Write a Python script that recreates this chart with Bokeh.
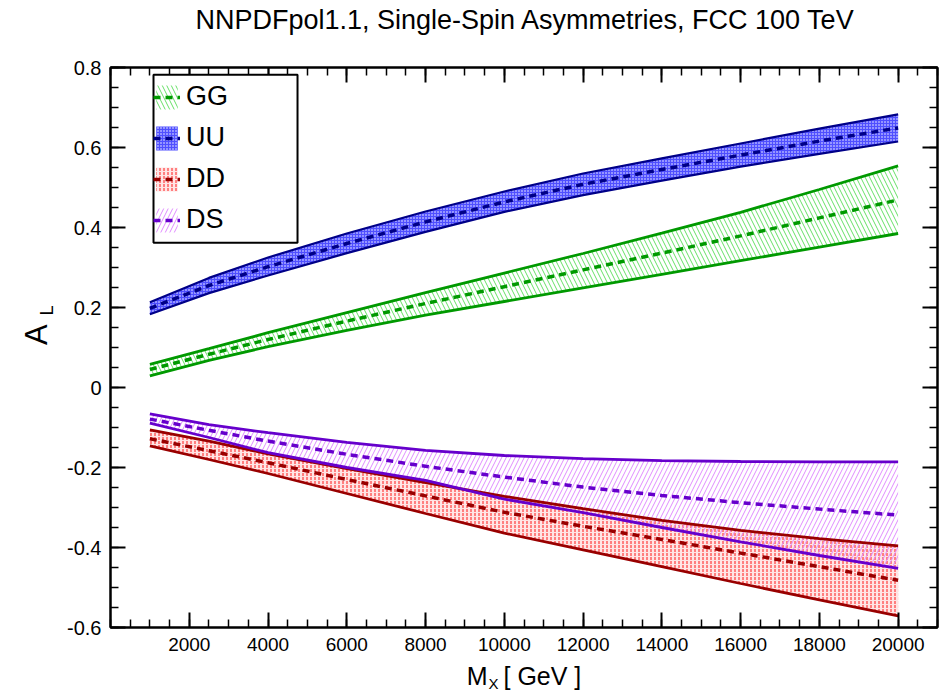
import math
from bokeh.plotting import figure
from bokeh.layouts import column, row
from bokeh.models import (FixedTicker, Legend, LegendItem, BoxAnnotation,
                          LinearAxis, CustomJSTickFormatter)
from bokeh.core.properties import value
from bokeh.embed import file_html
from bokeh.resources import INLINE

# invariant mass grid [GeV]
mx = [1000, 2500, 4000, 6000, 8000, 10000, 12000, 14000, 16000, 18000, 20000]

# single-spin asymmetries A_L: central value and band edges
gg_mid = [0.045, 0.083, 0.120, 0.166, 0.210, 0.252, 0.294, 0.336, 0.379, 0.424, 0.469]
gg_hi = [0.058, 0.097, 0.137, 0.187, 0.237, 0.286, 0.335, 0.386, 0.438, 0.495, 0.554]
gg_lo = [0.029, 0.068, 0.102, 0.143, 0.181, 0.215, 0.249, 0.283, 0.317, 0.351, 0.385]

uu_mid = [0.198, 0.255, 0.302, 0.360, 0.414, 0.464, 0.508, 0.545, 0.581, 0.616, 0.649]
uu_hi = [0.213, 0.274, 0.325, 0.385, 0.440, 0.490, 0.535, 0.573, 0.610, 0.647, 0.683]
uu_lo = [0.183, 0.236, 0.280, 0.336, 0.389, 0.439, 0.481, 0.517, 0.552, 0.584, 0.615]

dd_mid = [-0.128, -0.158, -0.188, -0.230, -0.271, -0.312, -0.347, -0.380, -0.414, -0.448, -0.482]
dd_hi = [-0.106, -0.134, -0.166, -0.203, -0.238, -0.272, -0.303, -0.332, -0.357, -0.378, -0.396]
dd_lo = [-0.146, -0.180, -0.215, -0.265, -0.315, -0.364, -0.406, -0.448, -0.490, -0.531, -0.571]

ds_mid = [-0.079, -0.107, -0.134, -0.167, -0.197, -0.224, -0.249, -0.270, -0.288, -0.304, -0.319]
ds_hi = [-0.066, -0.093, -0.113, -0.137, -0.157, -0.170, -0.178, -0.183, -0.185, -0.186, -0.186]
ds_lo = [-0.089, -0.125, -0.163, -0.200, -0.232, -0.279, -0.313, -0.350, -0.386, -0.420, -0.452]

x_major = [2000, 4000, 6000, 8000, 10000, 12000, 14000, 16000, 18000, 20000]
x_minor = [500 * i for i in range(0, 43)]
y_major = [-0.6, -0.4, -0.2, 0, 0.2, 0.4, 0.6, 0.8]
y_minor = [round(-0.6 + 0.05 * i, 2) for i in range(0, 29)]
y_labels = {-0.6: "-0.6", -0.4: "-0.4", -0.2: "-0.2", 0: "0",
            0.2: "0.2", 0.4: "0.4", 0.6: "0.6", 0.8: "0.8"}

TITLE = "NNPDFpol1.1, Single-Spin Asymmetries, FCC 100 TeV"
FONT = "Liberation Sans"
W, H = 950, 692
TOP_H, BOT_H, LEFT_W = 57, 29, 64
MID_H = H - TOP_H - BOT_H

p = figure(width=W - LEFT_W, height=MID_H, x_range=(0, 21000), y_range=(-0.6, 0.8),
           output_backend="svg", toolbar_location=None,
           min_border_left=110 - LEFT_W, min_border_right=13,
           min_border_top=10, min_border_bottom=36)
p.xgrid.visible = False
p.ygrid.visible = False
p.outline_line_color = "black"
p.outline_line_width = 2


def style_axis(ax, ticker):
    ax.ticker = ticker
    ax.axis_line_width = 2
    ax.major_tick_line_width = 2
    ax.minor_tick_line_width = 1.5
    ax.major_tick_in = 15
    ax.major_tick_out = 0
    ax.minor_tick_in = 8
    ax.minor_tick_out = 0
    ax.major_label_text_font = FONT
    ax.major_label_text_color = "black"


xt = FixedTicker(ticks=x_major, minor_ticks=x_minor)
yt = FixedTicker(ticks=y_major, minor_ticks=y_minor)
style_axis(p.xaxis[0], xt)
style_axis(p.yaxis[0], yt)
p.xaxis[0].major_label_text_font_size = "19px"
p.yaxis[0].major_label_text_font_size = "20px"
p.xaxis[0].major_label_standoff = 10
p.yaxis[0].major_label_standoff = 9
p.yaxis[0].major_label_overrides = y_labels

blank = CustomJSTickFormatter(code="return ''")
top_ax = LinearAxis(formatter=blank)
style_axis(top_ax, xt)
right_ax = LinearAxis(formatter=blank)
style_axis(right_ax, yt)
top_ax.major_label_standoff = 0
right_ax.major_label_standoff = 0
p.add_layout(top_ax, "above")
p.add_layout(right_ax, "right")

# uncertainty bands
gg_band = p.varea(x=mx, y1=gg_lo, y2=gg_hi, fill_color=None,
                  hatch_pattern="\\", hatch_color="#66e066", hatch_scale=9, hatch_weight=1)
uu_band = p.varea(x=mx, y1=uu_lo, y2=uu_hi, fill_color="#3030ff", fill_alpha=0.85,
                  hatch_pattern=".", hatch_color="white", hatch_scale=3, hatch_weight=1.5)
dd_band = p.varea(x=mx, y1=dd_lo, y2=dd_hi, fill_color="#ffcccc", fill_alpha=0.5,
                  hatch_pattern=":", hatch_color="#ff1a1a", hatch_scale=4, hatch_weight=1)
ds_band = p.varea(x=mx, y1=ds_lo, y2=ds_hi, fill_color=None,
                  hatch_pattern="/", hatch_color="#e08cff", hatch_scale=9, hatch_weight=1)

series = [
    ("GG", gg_mid, gg_hi, gg_lo, "#009900", gg_band, 2.8),
    ("UU", uu_mid, uu_hi, uu_lo, "#000088", uu_band, 2.2),
    ("DD", dd_mid, dd_hi, dd_lo, "#990000", dd_band, 2.8),
    ("DS", ds_mid, ds_hi, ds_lo, "#6600cc", ds_band, 2.8),
]

items = []
for name, mid, hi, lo, col, band, lw in series:
    p.line(mx, hi, line_color=col, line_width=lw)
    p.line(mx, lo, line_color=col, line_width=lw)
    dash = p.line(mx, mid, line_color=col, line_width=3.5, line_dash="7 5")
    items.append(LegendItem(label=name, renderers=[band, dash]))

# legend frame
p.add_layout(BoxAnnotation(left=1092, right=4749, bottom=0.362, top=0.782,
                           fill_color="white", fill_alpha=1.0,
                           line_color="black", line_width=2, line_alpha=1.0))

legend = Legend(items=items, location=(43, 392), border_line_color=None,
                background_fill_alpha=0, glyph_width=27, glyph_height=30,
                label_height=30, spacing=10, padding=5, label_standoff=6,
                label_text_font_size="27px", label_text_font=FONT,
                label_text_color="black", margin=0)
p.add_layout(legend)


def text_strip(width, height):
    """Blank pixel-scaled canvas used for the titles around the plot."""
    f = figure(width=width, height=height, x_range=(0, width), y_range=(0, height),
               output_backend="svg", toolbar_location=None,
               x_axis_location=None, y_axis_location=None,
               min_border=0, min_border_left=0, min_border_right=0,
               min_border_top=0, min_border_bottom=0)
    f.xgrid.visible = False
    f.ygrid.visible = False
    f.outline_line_color = None
    return f


def put(f, x, y, txt, size, align="center", angle=0.0):
    f.text(x=[x], y=[y], text=[txt], angle=angle, text_align=align,
           text_baseline="middle", text_font=value(FONT),
           text_font_size=size, text_color="black")


# title strip (page coordinates measured from the top)
top = text_strip(W, TOP_H)
put(top, 525, TOP_H - 19, TITLE, "27px")

# y-axis title: A with subscript L, reading upwards
left = text_strip(LEFT_W, MID_H)
put(left, 36, MID_H - (346 - TOP_H), "A", "31px", angle=math.pi / 2)
put(left, 46, MID_H - (320 - TOP_H), "L", "18px", angle=math.pi / 2)

# x-axis title: M with subscript X
bottom = text_strip(W, BOT_H)
put(bottom, 487, H - 675, "M", "25px", align="right")
put(bottom, 488, H - 683, "X", "15px", align="left")
put(bottom, 503, H - 675, "[ GeV ]", "25px", align="left")

page = column(top, row(left, p, spacing=0), bottom, spacing=0)

open("out.html", "w").write(file_html(page, INLINE))
